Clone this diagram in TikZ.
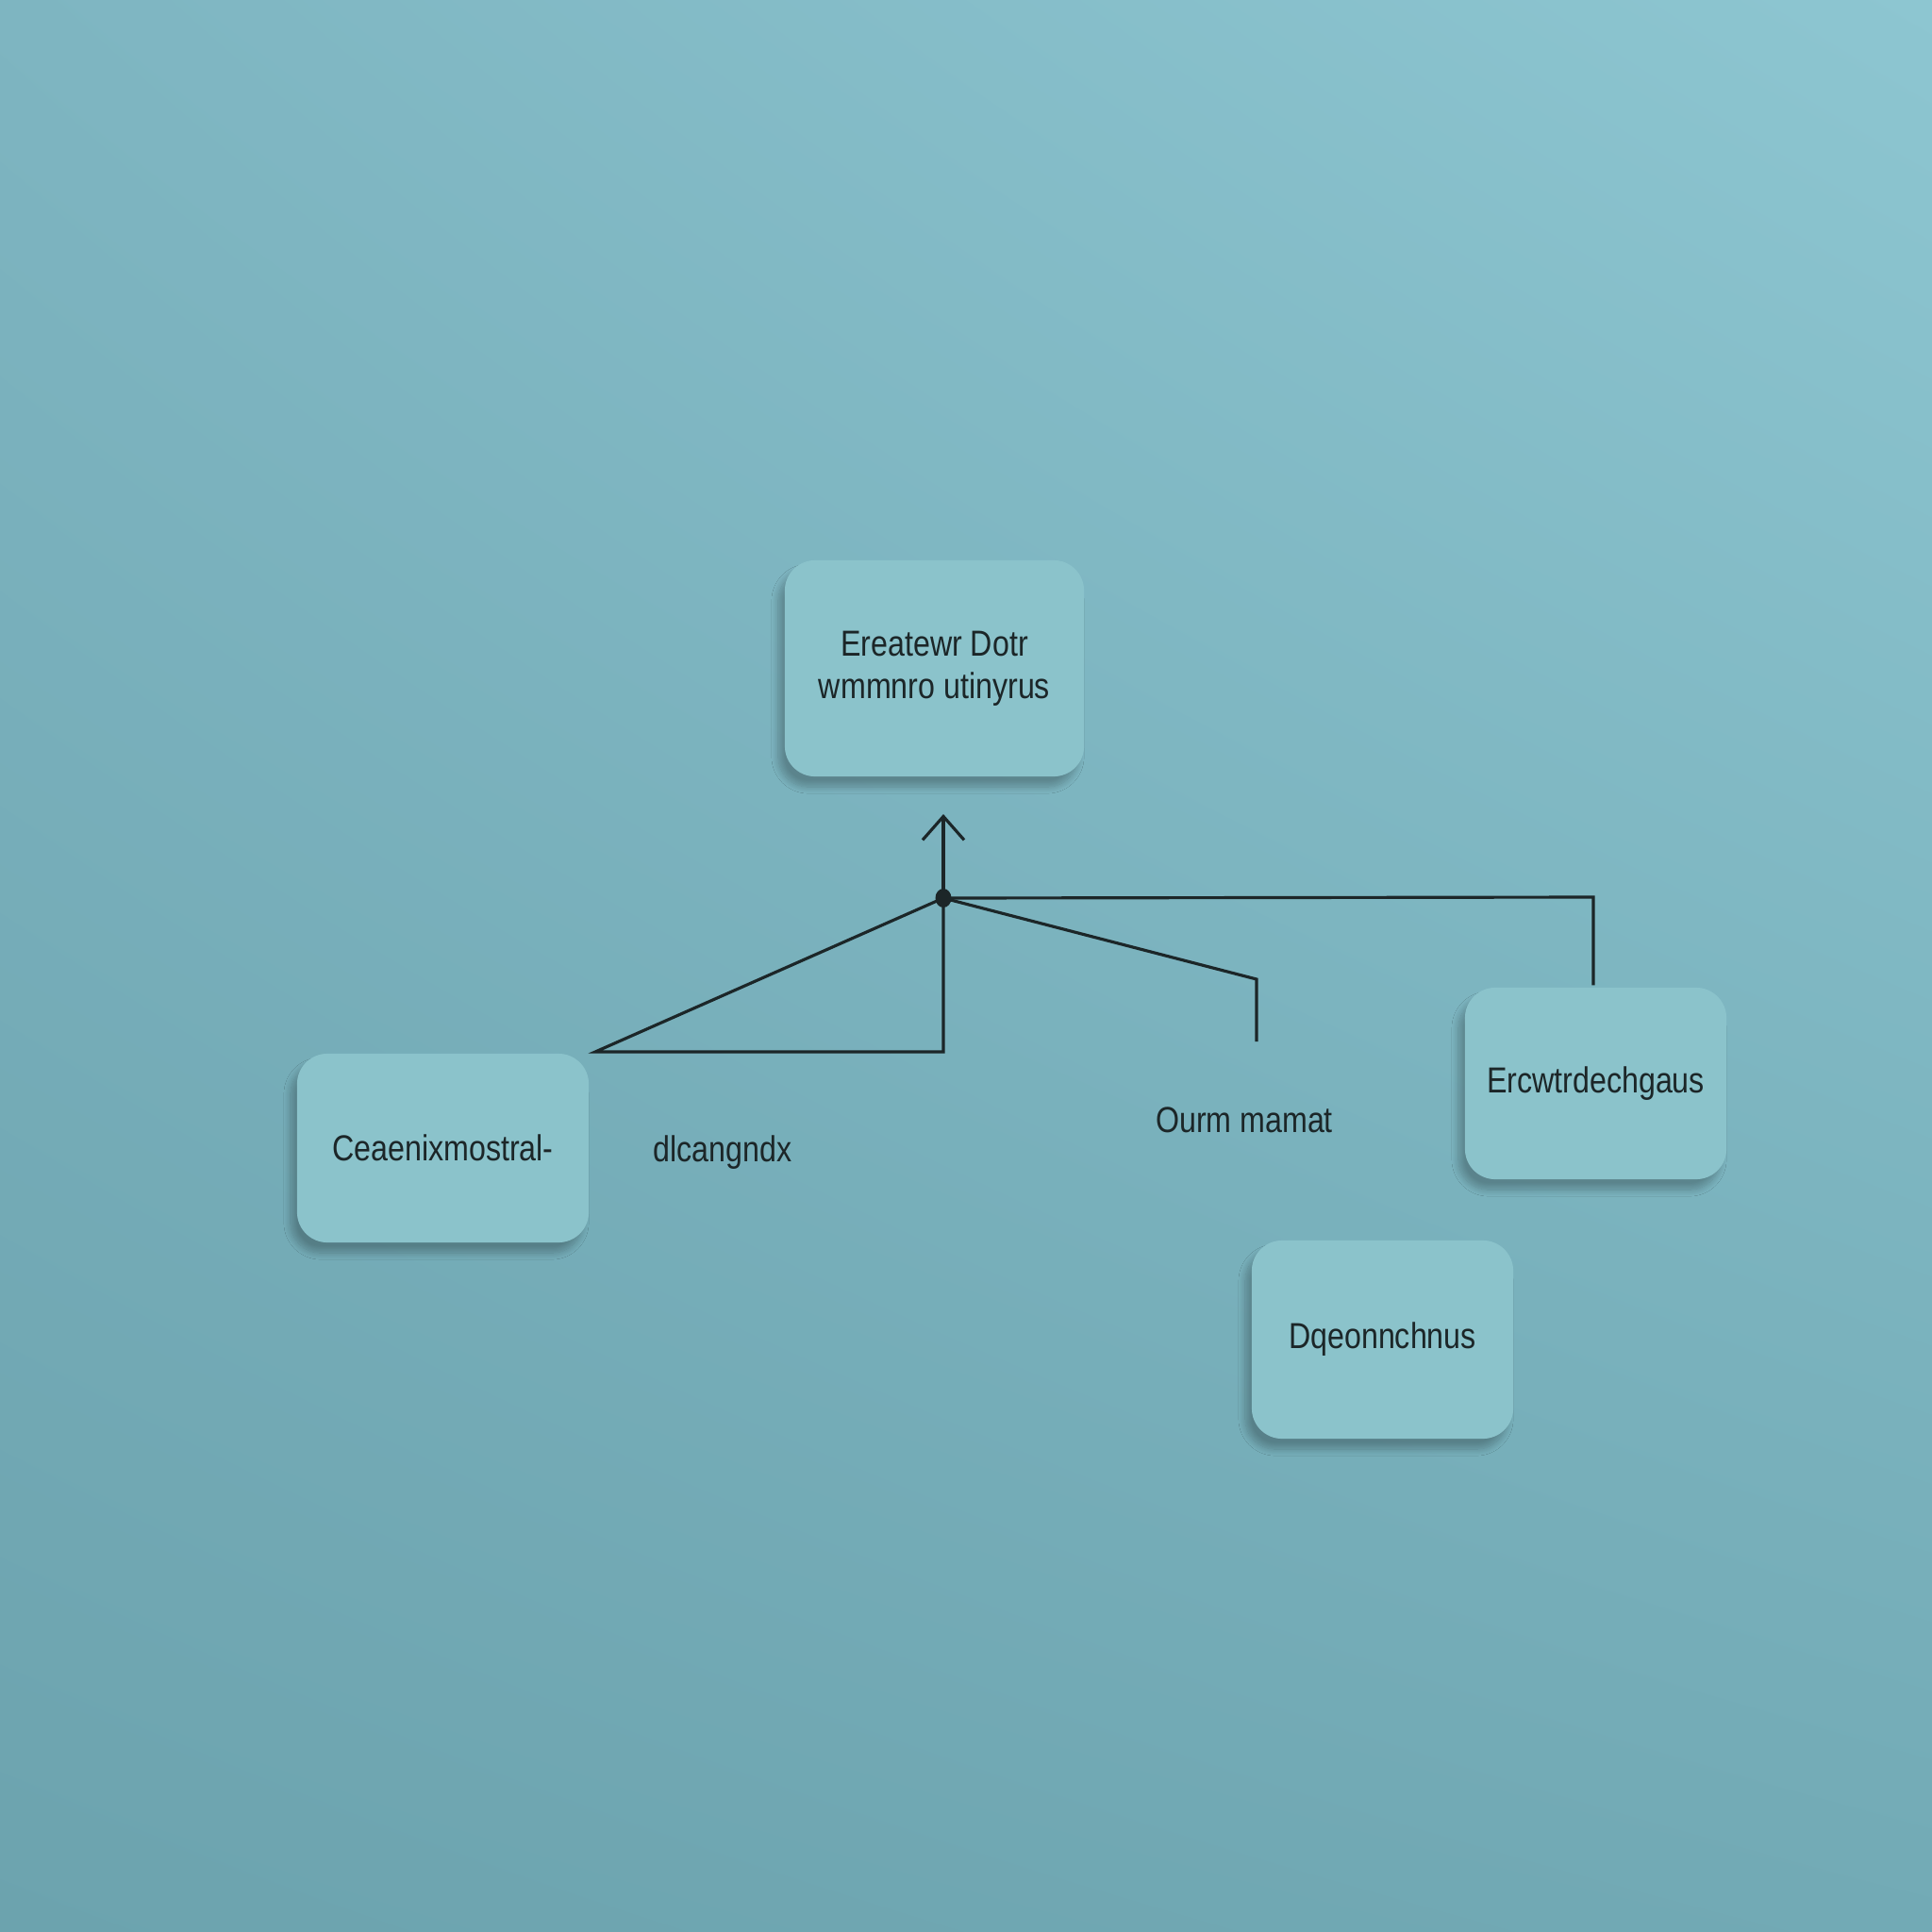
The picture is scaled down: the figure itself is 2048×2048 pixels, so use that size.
\documentclass[tikz,border=0pt]{standalone}
\usepackage{fontspec}
\setmainfont{Liberation Sans}[FakeStretch=0.84]
\usetikzlibrary{arrows.meta,shadows.blur,calc,shadings}
\definecolor{bgTL}{HTML}{7EB5C1}
\definecolor{bgTR}{HTML}{8DC6D1}
\definecolor{bgBL}{HTML}{6CA3AE}
\definecolor{bgBR}{HTML}{72AAB5}
\definecolor{cardfill}{HTML}{8BC3CB}
\definecolor{inkc}{HTML}{1C2628}
\begin{document}
\begin{tikzpicture}[x=0.01cm,y=-0.01cm,
  card/.style={rounded corners=0.32cm, fill=cardfill, draw=none, align=center,
    font=\fontsize{10.9}{12.8}\selectfont, text=inkc, inner sep=0pt,
    blur shadow={shadow xshift=-0.7mm, shadow yshift=-1.1mm, shadow blur steps=12,
      shadow blur radius=0.7mm, shadow opacity=26}},
  lbl/.style={font=\fontsize{10.9}{12.8}\selectfont, text=inkc, inner sep=0pt},
  wire/.style={draw=inkc, line width=0.9pt, line join=miter}]
\useasboundingbox (0,0) rectangle (2048,2048);
\shade[upper left=bgTL, upper right=bgTR, lower left=bgBL, lower right=bgBR]
  (0,0) rectangle (2048,2048);

\node[card, minimum width=3.17cm, minimum height=2.29cm] (top) at (990.5,708.5)
  {Ereatewr Dotr\\wmmnro utinyrus};
\node[card, minimum width=3.09cm, minimum height=2.00cm] (left) at (469.5,1217)
  {Ceaenixmostral-};
\node[card, minimum width=2.77cm, minimum height=2.03cm] (right) at (1691.5,1148.5)
  {Ercwtrdechgaus};
\node[card, minimum width=2.77cm, minimum height=2.10cm] (bottom) at (1465.5,1420)
  {Dqeonnchnus};
\node[lbl] (l1) at (766,1222) {dlcangndx};
\node[lbl] (l2) at (1319,1187) {Ourm mamat};

\coordinate (hub) at (1000,952);
\coordinate (tip) at (1000,863);
\coordinate (tl) at (631,1115);
\coordinate (tr) at (1000,1115);
\coordinate (mb) at (1332,1038);
\coordinate (me) at (1332,1104);
\coordinate (rb) at (1689,951);

\draw[wire] (hub) -- (tl) -- (tr) -- cycle;
\draw[wire] (hub) -- (mb) -- (me);
\draw[wire] (hub) -- (rb) -- ($(rb |- right.north)+(0,-2)$);
\draw[wire, -{Straight Barb[length=2.5mm, width=4.4mm, line width=0.9pt]}] (hub) -- (tip);
\fill[inkc] (hub) ellipse [x radius=0.85mm, y radius=1.0mm];
\end{tikzpicture}
\end{document}
